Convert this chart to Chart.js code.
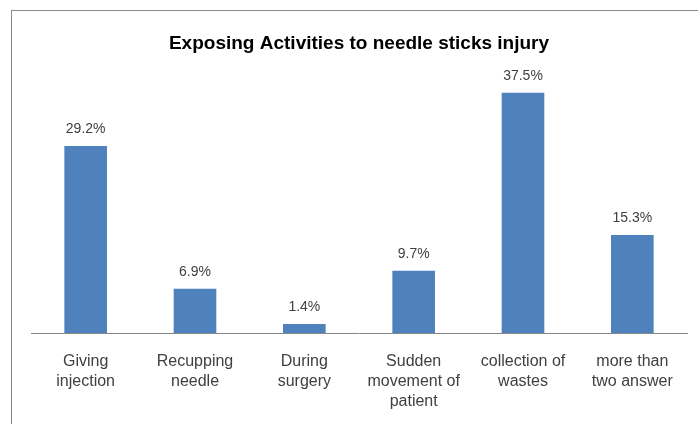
<!DOCTYPE html>
<html>
<head>
<meta charset="utf-8">
<script src="https://cdn.jsdelivr.net/npm/chart.js@4/dist/chart.umd.min.js"></script>
<style>
    html, body { margin: 0; padding: 0; background: #fff; }
    #wrap { position: relative; width: 698px; height: 424px; overflow: hidden; }
    #frame { position: absolute; left: 11px; top: 10px; width: 700px; height: 430px; border: 1px solid #8a8a8a; box-sizing: border-box; }
    #chart { position: absolute; left: 0; top: 0; }
</style>
</head>
<body>
<div id="wrap">
    <div id="frame"></div>
    <canvas id="chart" width="698" height="424"></canvas>
</div>
<script>
const categories = [
    ["Giving", "injection"],
    ["Recupping", "needle"],
    ["During", "surgery"],
    ["Sudden", "movement of", "patient"],
    ["collection of", "wastes"],
    ["more than", "two answer"]
];
const percentages = [29.2, 6.9, 1.4, 9.7, 37.5, 15.3];
const valueLabels = ["29.2%", "6.9%", "1.4%", "9.7%", "37.5%", "15.3%"];

// Draws the percentage above each bar.
const barLabels = {
    id: "barLabels",
    afterDatasetsDraw(chart) {
        const ctx = chart.ctx;
        const meta = chart.getDatasetMeta(0);
        ctx.save();
        ctx.font = "14px 'Liberation Sans', Arial, sans-serif";
        ctx.fillStyle = "#404040";
        ctx.textAlign = "center";
        ctx.textBaseline = "middle";
        meta.data.forEach((bar, i) => {
            ctx.fillText(valueLabels[i], bar.x, bar.y - 17);
        });
        ctx.restore();
    }
};

new Chart(document.getElementById("chart"), {
    type: "bar",
    data: {
        labels: categories,
        datasets: [{
            data: percentages,
            backgroundColor: "#4F81BD",
            borderWidth: 0,
            barPercentage: 0.39,
            categoryPercentage: 1
        }]
    },
    options: {
        responsive: false,
        animation: false,
        layout: { padding: { left: 31, right: 11, top: 0, bottom: 0 } },
        plugins: {
            legend: { display: false },
            tooltip: { enabled: false },
            title: {
                display: true,
                text: "Exposing Activities to needle sticks injury",
                color: "#000",
                font: { family: "'Liberation Sans', Arial, sans-serif", size: 19, weight: "bold" },
                padding: { top: 32, bottom: 22 }
            }
        },
        scales: {
            x: {
                grid: { display: false, drawTicks: false },
                border: { display: true, color: "#868686", width: 1 },
                ticks: {
                    color: "#404040",
                    font: { family: "'Liberation Sans', Arial, sans-serif", size: 16, lineHeight: 1.25 },
                    padding: 19,
                    maxRotation: 0,
                    autoSkip: false
                },
                afterFit(scale) { scale.height = 91; }
            },
            y: {
                display: false,
                min: 0,
                max: 40
            }
        }
    },
    plugins: [barLabels]
});
</script>
</body>
</html>
